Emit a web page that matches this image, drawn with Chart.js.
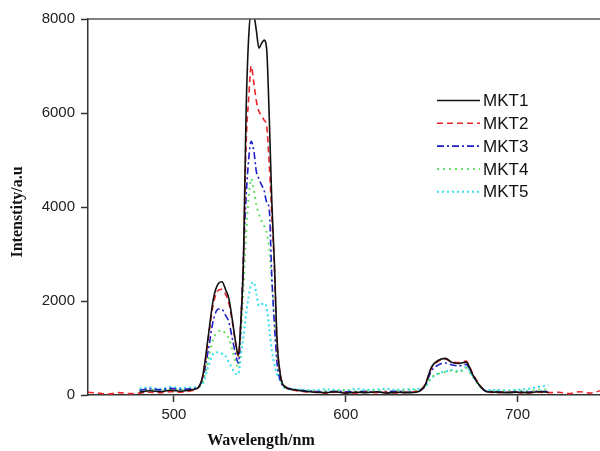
<!DOCTYPE html>
<html>
<head>
<meta charset="utf-8">
<script src="https://cdn.jsdelivr.net/npm/chart.js@4.4.0/dist/chart.umd.min.js"></script>
<style>
  html, body { margin: 0; padding: 0; background: #fff; }
</style>
</head>
<body>
<canvas id="specChart" width="600" height="451"></canvas>
<script>
// longitudes de onda (nm), rejilla compartida por las cinco series
const wavelengths = [
  450, 456, 462, 468, 474, 480, 486, 492, 498, 504,
  510, 514, 517, 520, 523, 526, 528, 530, 532, 534,
  536, 537.5, 539, 540.5, 542, 543.5, 545, 546.5, 548, 549.5,
  551, 552.5, 554, 555.5, 557, 558.5, 560, 562, 565, 570,
  576, 582, 588, 594, 600, 606, 612, 618, 624, 630,
  636, 642, 646, 650, 654, 658, 662, 666, 670, 674,
  678, 682, 688, 694, 700, 706, 712, 718, 724, 730,
  736, 742, 748
];

const mkt1 = [
  null, null, null, null, null, 60, 90, 70, 100, 80,
  110, 150, 450, 1250, 2050, 2380, 2410, 2250, 2050, 1600,
  1100, 850, 1600, 2900, 6000, 7600, 8150, 8100, 7750, 7380,
  7480, 7550, 7350, 5900, 4100, 2800, 1200, 420, 160, 110,
  80, 60, 50, 70, 40, 60, 50, 70, 40, 60,
  50, 70, 200, 600, 740, 780, 690, 670, 700, 430,
  200, 70, 60, 50, 60, 50, 70, 60, null, null,
  null, null, null
];

const mkt2 = [
  60, 40, 20, 50, 30, 40, 60, 50, 70, 60,
  90, 150, 420, 1200, 1950, 2230, 2250, 2150, 1950, 1550,
  1080, 820, 1600, 2900, 5300, 6300, 7000, 6650, 6250, 6030,
  5950, 5850, 5720, 4900, 3800, 2700, 1150, 420, 170, 100,
  70, 60, 40, 60, 50, 40, 60, 50, 60, 40,
  60, 80, 210, 580, 720, 760, 700, 690, 720, 450,
  210, 80, 50, 60, 50, 40, 60, 50, 60, 30,
  70, 40, 90
];

const mkt3 = [
  null, null, null, null, null, 100, 130, 110, 140, 120,
  130, 170, 380, 950, 1600, 1830, 1820, 1700, 1550, 1200,
  850, 680, 1500, 3000, 4200, 5000, 5400, 5200, 4750, 4600,
  4470, 4350, 4100, 3950, 2500, 1500, 700, 300, 170, 120,
  90, 80, 60, 80, 70, 60, 80, 60, 70, 80,
  60, 80, 180, 520, 640, 680, 640, 620, 650, 420,
  190, 80, 70, 60, 70, 60, 80, 70, null, null,
  null, null, null
];

const mkt4 = [
  null, null, null, null, null, 90, 110, 100, 120, 110,
  120, 150, 300, 750, 1200, 1350, 1380, 1300, 1200, 950,
  700, 600, 1300, 2300, 3400, 4200, 4600, 4350, 4050, 3850,
  3700, 3600, 3450, 3100, 2400, 1600, 800, 350, 180, 120,
  100, 80, 90, 80, 100, 80, 90, 100, 80, 90,
  100, 110, 180, 380, 450, 490, 520, 480, 580, 380,
  180, 80, 90, 80, 100, 90, 110, 120, null, null,
  null, null, null
];

const mkt5 = [
  null, null, null, null, null, 140, 160, 130, 170, 150,
  160, 170, 250, 600, 880, 910, 880, 830, 700, 560,
  450, 440, 850, 1250, 1700, 2100, 2350, 2400, 2150, 1900,
  1930, 1950, 1850, 1400, 950, 650, 450, 300, 130, 120,
  110, 100, 120, 110, 100, 130, 110, 120, 130, 110,
  120, 130, 170, 360, 460, 500, 530, 500, 590, 400,
  190, 100, 110, 100, 110, 130, 170, 210, null, null,
  null, null, null
];

const seriesNames = ['MKT1', 'MKT2', 'MKT3', 'MKT4', 'MKT5'];
const xTicks = [500, 600, 700];
const yTicks = [0, 2000, 4000, 6000, 8000];

const seriesStyles = [
  { color: '#111111', dash: [], width: 1.6 },
  { color: '#e8262b', dash: [6, 4], width: 1.6 },
  { color: '#1f1fc8', dash: [7, 3, 2, 3], width: 1.6 },
  { color: '#66dd66', dash: [2, 4], width: 2 },
  { color: '#33e0f0', dash: [2, 3], width: 2 }
];

function toPoints(values) {
  return wavelengths.map((w, i) => ({ x: w, y: values[i] }));
}

const seriesValues = [mkt1, mkt2, mkt3, mkt4, mkt5];

// leyenda, marco superior y títulos de ejes
const overlayPlugin = {
  id: 'overlay',
  afterDraw(chart) {
    const { ctx, chartArea } = chart;
    ctx.save();
    ctx.strokeStyle = '#555';
    ctx.lineWidth = 1.5;
    ctx.beginPath();
    ctx.moveTo(chartArea.left, chartArea.top);
    ctx.lineTo(chartArea.right, chartArea.top);
    ctx.stroke();

    chart.data.datasets.forEach((ds, i) => {
      const y = 100.5 + i * 22.8;
      ctx.strokeStyle = ds.borderColor;
      ctx.lineWidth = ds.borderWidth;
      ctx.setLineDash(ds.borderDash);
      ctx.beginPath();
      ctx.moveTo(437, y);
      ctx.lineTo(480, y);
      ctx.stroke();
      ctx.setLineDash([]);
      ctx.fillStyle = '#111';
      ctx.font = '17px "Liberation Sans", Arial, sans-serif';
      ctx.textAlign = 'left';
      ctx.textBaseline = 'middle';
      ctx.fillText(ds.label, 483, y + 1);
    });

    ctx.fillStyle = '#111';
    ctx.font = 'bold 16px "Liberation Serif", "Times New Roman", serif';
    ctx.textAlign = 'center';
    ctx.textBaseline = 'middle';
    ctx.fillText('Wavelength/nm', 261, 441);

    ctx.translate(18, 212);
    ctx.rotate(-Math.PI / 2);
    ctx.fillText('Intenstity/a.u', 0, 0);
    ctx.restore();
  }
};

const ctx = document.getElementById('specChart').getContext('2d');
new Chart(ctx, {
  type: 'line',
  data: {
    datasets: seriesNames.map((name, i) => ({
      label: name,
      data: toPoints(seriesValues[i]),
      borderColor: seriesStyles[i].color,
      borderDash: seriesStyles[i].dash,
      borderWidth: seriesStyles[i].width,
      pointRadius: 0,
      fill: false,
      cubicInterpolationMode: 'monotone',
      spanGaps: false
    }))
  },
  options: {
    responsive: false,
    animation: false,
    devicePixelRatio: 1,
    layout: { padding: { top: 19, right: 0, left: 0, bottom: 0 } },
    plugins: {
      legend: { display: false },
      tooltip: { enabled: false }
    },
    scales: {
      x: {
        type: 'linear',
        min: 450,
        max: 748,
        afterBuildTicks: scale => { scale.ticks = xTicks.map(v => ({ value: v })); },
        afterFit: scale => { scale.height = 56; },
        ticks: {
          color: '#222',
          padding: 4,
          font: { family: '"Liberation Sans", Arial, sans-serif', size: 15 },
          callback: v => String(v)
        },
        grid: { drawOnChartArea: false, drawTicks: true, tickLength: 7, tickColor: '#333', tickWidth: 1.5 },
        border: { display: true, color: '#333', width: 1.5 }
      },
      y: {
        min: 0,
        max: 8000,
        afterBuildTicks: scale => { scale.ticks = yTicks.map(v => ({ value: v })); },
        afterFit: scale => { scale.width = 88; },
        ticks: {
          color: '#222',
          padding: 6,
          font: { family: '"Liberation Sans", Arial, sans-serif', size: 15 },
          callback: v => String(v)
        },
        grid: { drawOnChartArea: false, drawTicks: true, tickLength: 7, tickColor: '#333', tickWidth: 1.5 },
        border: { display: true, color: '#333', width: 1.5 }
      }
    }
  },
  plugins: [overlayPlugin]
});
</script>
</body>
</html>
